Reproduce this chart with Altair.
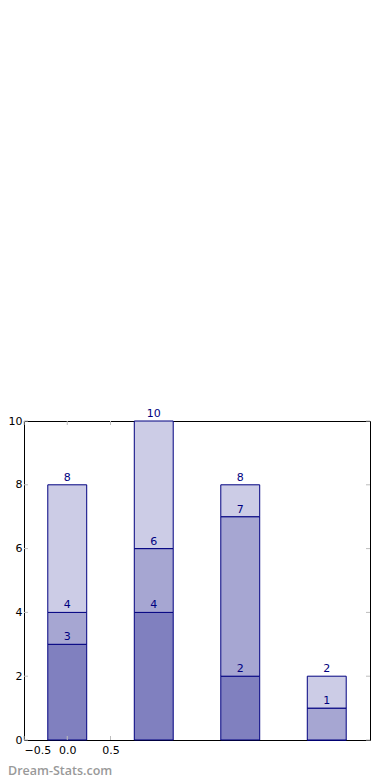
import altair as alt
import pandas as pd

positions = [0, 1, 2, 3]
seg1 = [3, 4, 2, 0]
seg2 = [1, 2, 5, 1]
seg3 = [4, 4, 1, 1]
seg_names = ["s1", "s2", "s3"]
seg_colors = ["#8080bf", "#a6a6d2", "#ccccE6"]
y_ticks = [0, 2, 4, 6, 8, 10]
x_ticks = [-0.5, 0.0, 0.5]

rows = []
for i, p in enumerate(positions):
    base = 0
    for name, vals in zip(seg_names, [seg1, seg2, seg3]):
        v = vals[i]
        rows.append({"pos": p, "seg": name, "start": base, "end": base + v, "val": v})
        base += v
df = pd.DataFrame(rows)
df_lab = df[df["val"] > 0]

PL = 16
W, H = 370 - 8 - PL, 319
xscale = alt.Scale(domain=[-0.5, 3.5], nice=False, zero=False)
yscale = alt.Scale(domain=[0, 10], nice=False)

bars = alt.Chart(df).transform_calculate(
    x0="datum.pos - 0.225", x1="datum.pos + 0.225"
).mark_bar(stroke="#000080", strokeWidth=1, opacity=1).encode(
    x=alt.X("x0:Q", scale=xscale,
            axis=alt.Axis(values=x_ticks, format=".1f", title=None, tickSize=0,
                          labelPadding=4, domain=False, grid=False)),
    x2="x1:Q",
    y=alt.Y("start:Q", scale=yscale,
            axis=alt.Axis(values=y_ticks, format="d", title=None, tickSize=0,
                          labelPadding=2, domain=False, grid=False)),
    y2="end:Q",
    color=alt.Color("seg:N", scale=alt.Scale(domain=seg_names, range=seg_colors), legend=None),
)

labels = alt.Chart(df_lab).mark_text(
    baseline="bottom", align="center", dy=-2, font="DejaVu Sans", fontSize=11, color="#000080"
).encode(
    x=alt.X("pos:Q", scale=xscale),
    y=alt.Y("end:Q", scale=yscale),
    text="end:Q",
)

tick_col = "#bdbdbd"
ydf = pd.DataFrame({"v": y_ticks})
xdf = pd.DataFrame({"v": x_ticks})
yl = alt.Chart(ydf).mark_rule(color=tick_col).encode(
    y=alt.Y("v:Q", scale=yscale), x=alt.value(0), x2=alt.value(4))
yr = alt.Chart(ydf).mark_rule(color=tick_col).encode(
    y=alt.Y("v:Q", scale=yscale), x=alt.value(W - 4), x2=alt.value(W))
xb = alt.Chart(xdf).mark_rule(color=tick_col).encode(
    x=alt.X("v:Q", scale=xscale), y=alt.value(H - 4), y2=alt.value(H))
xt = alt.Chart(xdf).mark_rule(color=tick_col).encode(
    x=alt.X("v:Q", scale=xscale), y=alt.value(0), y2=alt.value(4))

wm = alt.Chart(pd.DataFrame({"t": ["Dream-Stats.com"]})).mark_text(
    align="left", baseline="middle", font="Open Sans", fontSize=12.5,
    fontWeight=600, color="#999999"
).encode(x=alt.value(-PL), y=alt.value(H + 31), text="t:N")

chart = alt.layer(bars, yl, yr, xb, xt, labels, wm).properties(
    width=W, height=H,
    autosize=alt.AutoSizeParams(type="none"),
    padding={"left": PL, "top": 413, "right": 10, "bottom": 40},
).configure_view(stroke="black", strokeWidth=1).configure_axis(
    labelFont="DejaVu Sans", labelFontSize=11, labelColor="black"
)

chart.save("out.html", embed_options={"renderer": "svg", "actions": False})
